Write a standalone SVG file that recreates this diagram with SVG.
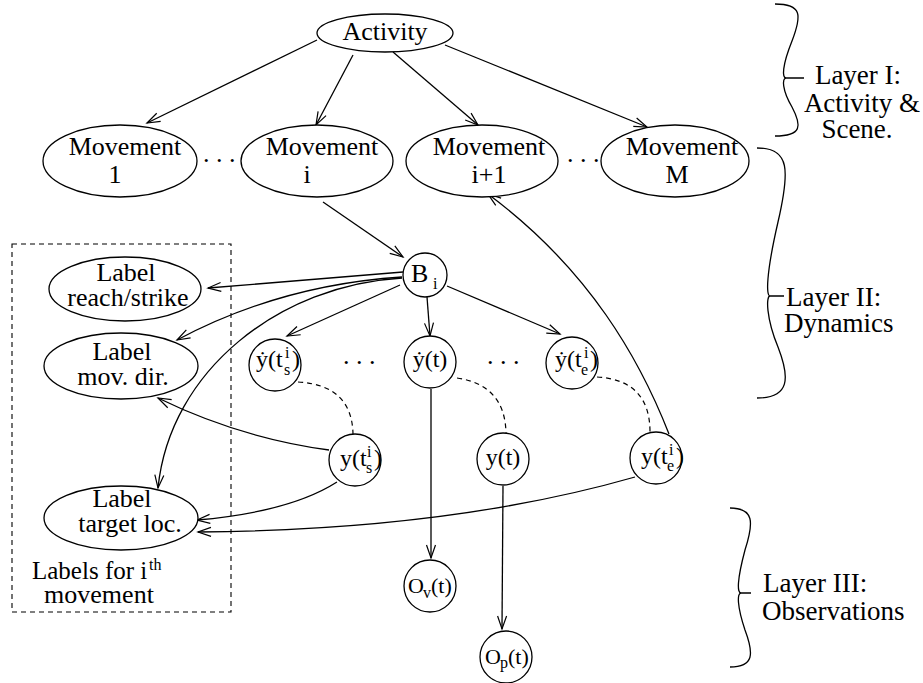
<svg xmlns="http://www.w3.org/2000/svg" width="923" height="683" viewBox="0 0 923 683">
<style>
text{font-family:"Liberation Serif","DejaVu Serif",serif;fill:#000}
.t{font-size:26px}
.c{font-size:24px}
.o{font-size:22px}
.s{font-size:16px}
.l{font-size:27px}
.m{text-anchor:middle}
.n{fill:#fff;stroke:#000;stroke-width:1.3}
.e{fill:none;stroke:#000;stroke-width:1.3}
.d{fill:none;stroke:#000;stroke-width:1.2;stroke-dasharray:5 4}
.a{marker-end:url(#ah)}
</style>
<defs>
<marker id="ah" viewBox="-15 -7 17 14" markerWidth="17" markerHeight="14" refX="0" refY="0" orient="auto" markerUnits="userSpaceOnUse">
<path d="M-13,-4.5 L0,0 L-13,4.5" fill="none" stroke="#000" stroke-width="1.2"/>
</marker>
</defs>

<g id="connectors">
<path class="e a" d="M317,40 L147,123"/>
<path class="e a" d="M353,55 L316,125"/>
<path class="e a" d="M393,52 L478,125"/>
<path class="e a" d="M445,45 L647,127"/>
<path class="e a" d="M323,202 L403,257"/>
<path class="e a" d="M669,434 C640,360 590,270 488,194"/>
<path class="e a" d="M403,272 L208,288"/>
<path class="e a" d="M402,277 Q280,285 177,340"/>
<path class="e a" d="M402,278 C280,285 170,370 158,488"/>
<path class="e a" d="M400,285 L287,336"/>
<path class="e a" d="M427,297 L430,336"/>
<path class="e a" d="M447,286 L560,334"/>
<path class="e a" d="M431,389 L431,558"/>
<path class="e a" d="M503,486 L502,629"/>
<path class="e a" d="M329,450 Q240,438 158,398"/>
<path class="e a" d="M337,482 Q290,512 197,520"/>
<path class="e a" d="M635,477 Q450,530 198,532"/>
<path class="d" d="M298,382 Q352,385 353,434"/>
<path class="d" d="M457,378 Q505,385 506,433"/>
<path class="d" d="M597,377 Q650,380 650,432"/>
</g>

<g id="activity"><ellipse class="n" cx="385" cy="33" rx="68" ry="19"/><text class="t m" x="385" y="40">Activity</text></g>
<g id="movement-1"><ellipse class="n" cx="120" cy="161" rx="77" ry="36"/><text class="t m" x="125" y="155">Movement</text><text class="t m" x="115" y="183">1</text></g>
<g id="movement-i"><ellipse class="n" cx="317" cy="161" rx="76" ry="36"/><text class="t m" x="322" y="155">Movement</text><text class="t m" x="307" y="183">i</text></g>
<g id="movement-i1"><ellipse class="n" cx="482" cy="161" rx="76" ry="36"/><text class="t m" x="489" y="155">Movement</text><text class="t m" x="489" y="183">i+1</text></g>
<g id="movement-M"><ellipse class="n" cx="675" cy="161" rx="74" ry="36"/><text class="t m" x="682" y="155">Movement</text><text class="t m" x="677" y="183">M</text></g>
<g id="dots-top"><text class="t" x="203" y="162">. . .</text><text class="t" x="567" y="162">. . .</text></g>

<g id="B-i"><circle class="n" cx="425" cy="275" r="22"/><text class="t" x="411" y="282">B</text><text class="s" x="433" y="289">i</text></g>
<g id="yd-ts"><circle class="n" cx="275" cy="365" r="26"/><text class="c" x="256" y="367">ẏ(t</text><text class="s" x="285" y="358">i</text><text class="s" x="284" y="375">s</text><text class="c" x="292" y="367">)</text></g>
<g id="yd-t"><circle class="n" cx="430" cy="362" r="26"/><text class="c m" x="430" y="367">ẏ(t)</text></g>
<g id="yd-te"><circle class="n" cx="572" cy="363" r="26"/><text class="c" x="555" y="367">ẏ(t</text><text class="s" x="584" y="358">i</text><text class="s" x="581" y="375">e</text><text class="c" x="590" y="367">)</text></g>
<g id="dots-mid"><text class="t" x="343" y="364">. . .</text><text class="t" x="487" y="364">. . .</text></g>
<g id="y-ts"><circle class="n" cx="355" cy="460" r="26"/><text class="c" x="340" y="466">y(t</text><text class="s" x="367" y="457">i</text><text class="s" x="366" y="473">s</text><text class="c" x="374" y="466">)</text></g>
<g id="y-t"><circle class="n" cx="503" cy="459" r="26"/><text class="c m" x="503" y="465">y(t)</text></g>
<g id="y-te"><circle class="n" cx="656" cy="458" r="26"/><text class="c" x="641" y="464">y(t</text><text class="s" x="669" y="455">i</text><text class="s" x="667" y="471">e</text><text class="c" x="676" y="464">)</text></g>
<g id="O-v"><circle class="n" cx="430" cy="586" r="26"/><text class="o" x="408" y="593">O</text><text class="s" x="423" y="598">v</text><text class="o" x="431" y="593">(t)</text></g>
<g id="O-p"><circle class="n" cx="506" cy="657" r="26"/><text class="o" x="485" y="664">O</text><text class="s" x="500" y="668">p</text><text class="o" x="508" y="664">(t)</text></g>

<g id="labels-box">
<rect x="12" y="244" width="219" height="368" fill="none" stroke="#000" stroke-width="1.1" stroke-dasharray="5 4"/>
<text style="font-size:25px" x="32" y="579">Labels for i</text><text class="s" x="149" y="570">th</text>
<text class="t m" x="99" y="603">movement</text>
</g>
<g id="label-reach"><ellipse class="n" cx="125" cy="289" rx="76" ry="32"/><text class="t m" x="126" y="281">Label</text><text class="t m" x="128" y="306">reach/strike</text></g>
<g id="label-dir"><ellipse class="n" cx="121" cy="366" rx="77" ry="33"/><text class="t m" x="122" y="360">Label</text><text class="t m" x="123" y="385">mov. dir.</text></g>
<g id="label-target"><ellipse class="n" cx="121" cy="518" rx="77" ry="32"/><text class="t m" x="122" y="507">Label</text><text class="t m" x="130" y="532">target loc.</text></g>

<g id="layer-1">
<path class="e" d="M775,4 C802,4 802,15 792,41 C782,66 782,78 786,78 C782,78 782,90 792,107 C802,126 802,136 775,136 M786,78 L804,78"/>
<text class="l m" x="858" y="84">Layer I:</text><text class="l m" x="862" y="112">Activity &amp;</text><text class="l m" x="857" y="138">Scene.</text>
</g>
<g id="layer-2">
<path class="e" d="M757,148 C790,148 790,170 778,222 C766,274 766,296 770,296 C766,296 766,318 778,347 C790,378 790,398 757,398 M770,296 L784,296"/>
<text class="l" x="786" y="306">Layer II:</text><text class="l" x="784" y="332">Dynamics</text>
</g>
<g id="layer-3">
<path class="e" d="M730,508 C754,508 754,522 745,550 C737,580 737,593 741,593 C737,593 737,606 745,630 C754,654 754,667 730,667 M741,593 L751,593"/>
<text class="l" x="763" y="592">Layer III:</text><text class="l" x="762" y="620">Observations</text>
</g>
</svg>
